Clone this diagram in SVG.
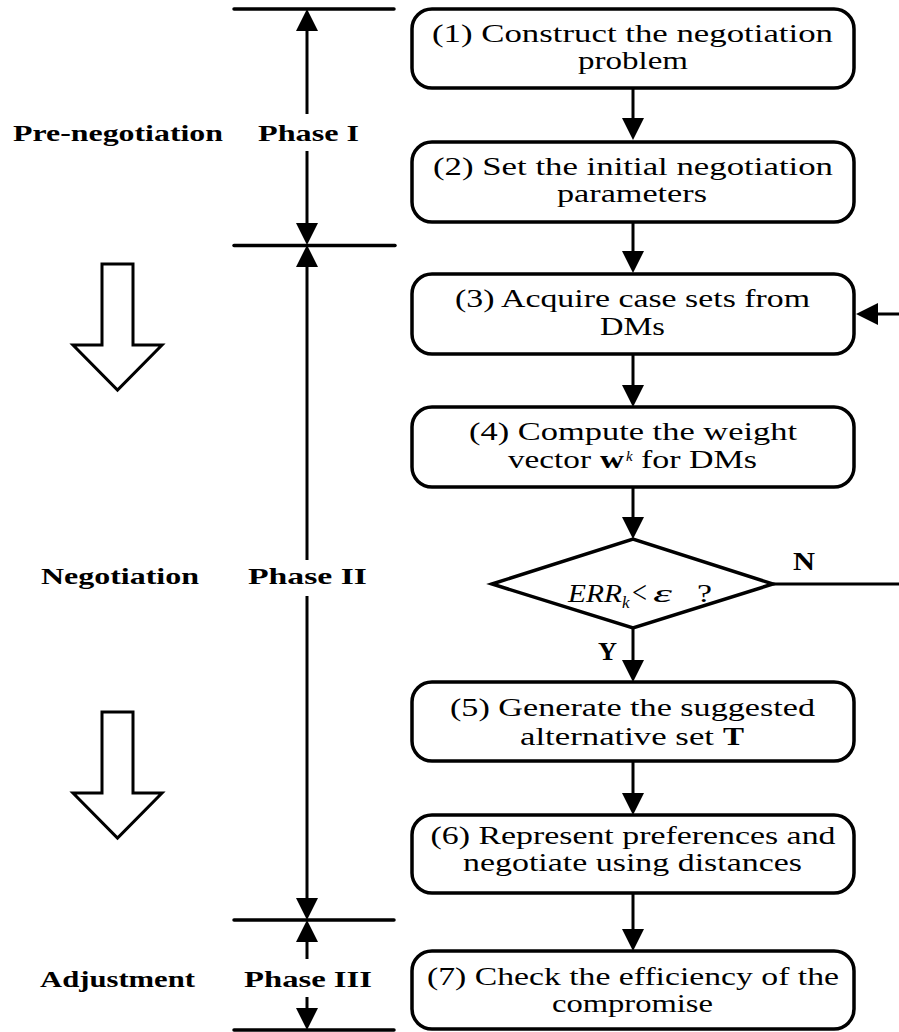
<svg xmlns="http://www.w3.org/2000/svg" width="899" height="1032" viewBox="0 0 899 1032">
  <style>
    .node rect { fill: #fff; stroke: #000; stroke-width: 3.5; }
    .node polygon { fill: #fff; stroke: #000; stroke-width: 3.5; stroke-linejoin: miter; }
    .t { font-family: "Liberation Serif", "Times New Roman", serif; font-size: 26px; fill: #000; text-anchor: middle; }
    .s { text-anchor: start; }
    .bold { font-weight: bold; }
    .it { font-style: italic; }
    .lab { font-family: "Liberation Serif", "Times New Roman", serif; font-size: 24px; font-weight: bold; fill: #000; text-anchor: middle; }
    .conn line, .conn path { stroke: #000; stroke-width: 3; fill: none; }
    .phase line { stroke: #000; stroke-width: 3; fill: none; }
    .phase line.rule { stroke-width: 3.5; stroke-linecap: round; }
    .hollow { fill: #fff; stroke: #000; stroke-width: 3; stroke-linejoin: miter; }
  </style>
  <defs>
    <marker id="ah" viewBox="0 0 22 22" refX="12" refY="11" markerWidth="22" markerHeight="22" markerUnits="userSpaceOnUse" orient="auto-start-reverse">
      <path d="M0,0 L22,11 L0,22 z" fill="#000"/>
    </marker>
  </defs>

  <!-- phase rulers and dimension arrows -->
  <g id="phases" class="phase">
    <line class="rule" x1="234" y1="9" x2="394" y2="9"/>
    <line class="rule" x1="234" y1="245.5" x2="395" y2="245.5"/>
    <line class="rule" x1="234" y1="920" x2="394" y2="920"/>
    <line class="rule" x1="234" y1="1030" x2="394" y2="1030"/>
    <line x1="307" y1="114" x2="307" y2="19" marker-end="url(#ah)"/>
    <line x1="307" y1="151" x2="307" y2="235" marker-end="url(#ah)"/>
    <line x1="307" y1="560" x2="307" y2="255" marker-end="url(#ah)"/>
    <line x1="307" y1="596" x2="307" y2="910" marker-end="url(#ah)"/>
    <line x1="307" y1="959" x2="307" y2="930" marker-end="url(#ah)"/>
    <line x1="307" y1="997" x2="307" y2="1020" marker-end="url(#ah)"/>
    <text class="lab" x="118" y="141" textLength="210" lengthAdjust="spacingAndGlyphs">Pre-negotiation</text>
    <text class="lab" x="308.5" y="141" textLength="101" lengthAdjust="spacingAndGlyphs">Phase I</text>
    <text class="lab" x="120" y="584" textLength="158" lengthAdjust="spacingAndGlyphs">Negotiation</text>
    <text class="lab" x="307.5" y="584" textLength="119" lengthAdjust="spacingAndGlyphs">Phase II</text>
    <text class="lab" x="117.5" y="987" textLength="155" lengthAdjust="spacingAndGlyphs">Adjustment</text>
    <text class="lab" x="308" y="987" textLength="128" lengthAdjust="spacingAndGlyphs">Phase III</text>
  </g>

  <!-- hollow progress arrows -->
  <g id="progress">
    <polygon class="hollow" points="102,264 133,264 133,345 162,345 117.5,390 73,345 102,345"/>
    <polygon class="hollow" points="102,712 133,712 133,793 162,793 117.5,838 73,793 102,793"/>
  </g>

  <!-- connectors -->
  <g id="connectors" class="conn">
    <line x1="633" y1="88" x2="633" y2="130" marker-end="url(#ah)"/>
    <line x1="633" y1="222" x2="633" y2="263" marker-end="url(#ah)"/>
    <line x1="633" y1="354" x2="633" y2="397" marker-end="url(#ah)"/>
    <line x1="633" y1="487" x2="633" y2="529" marker-end="url(#ah)"/>
    <line x1="633" y1="628" x2="633" y2="672" marker-end="url(#ah)"/>
    <line x1="633" y1="761" x2="633" y2="805" marker-end="url(#ah)"/>
    <line x1="633" y1="893" x2="633" y2="941" marker-end="url(#ah)"/>
    <path d="M773,584 H902 V314 H866" marker-end="url(#ah)"/>
    <text class="t bold s" x="793" y="570" textLength="22" lengthAdjust="spacingAndGlyphs">N</text>
    <text class="t bold s" x="598" y="660" textLength="19" lengthAdjust="spacingAndGlyphs">Y</text>
  </g>

  <g id="step1" class="node">
    <rect x="412" y="9" width="442" height="79" rx="20"/>
    <text class="t" x="632.5" y="42" textLength="401" lengthAdjust="spacingAndGlyphs">(1) Construct the negotiation</text>
    <text class="t" x="633" y="69" textLength="110" lengthAdjust="spacingAndGlyphs">problem</text>
  </g>

  <g id="step2" class="node">
    <rect x="412" y="142" width="442" height="80" rx="20"/>
    <text class="t" x="633" y="175" textLength="400" lengthAdjust="spacingAndGlyphs">(2) Set the initial negotiation</text>
    <text class="t" x="632" y="202" textLength="150" lengthAdjust="spacingAndGlyphs">parameters</text>
  </g>

  <g id="step3" class="node">
    <rect x="412" y="274" width="442" height="80" rx="20"/>
    <text class="t" x="632.5" y="307" textLength="355" lengthAdjust="spacingAndGlyphs">(3) Acquire case sets from</text>
    <text class="t" x="632.5" y="335" textLength="65" lengthAdjust="spacingAndGlyphs">DMs</text>
  </g>

  <g id="step4" class="node">
    <rect x="412" y="407" width="442" height="80" rx="20"/>
    <text class="t" x="633" y="440" textLength="328" lengthAdjust="spacingAndGlyphs">(4) Compute the weight</text>
    <text class="t s" x="508" y="468" textLength="83" lengthAdjust="spacingAndGlyphs">vector</text>
    <text class="t s bold" x="600" y="468" textLength="24" lengthAdjust="spacingAndGlyphs">w</text>
    <text class="t s it" x="626" y="461" style="font-size:15px">k</text>
    <text class="t s" x="641" y="468" textLength="116" lengthAdjust="spacingAndGlyphs">for DMs</text>
  </g>

  <g id="decision" class="node">
    <polygon points="492,584 633,539 773,584 633,628"/>
    <text class="t s it" x="568" y="602" textLength="54" lengthAdjust="spacingAndGlyphs">ERR</text>
    <text class="t s it" x="622" y="608" style="font-size:17px">k</text>
    <text class="t s" x="632" y="603" textLength="15" lengthAdjust="spacingAndGlyphs" style="font-size:32px">&lt;</text>
    <text class="t s it" x="653" y="602" textLength="19" lengthAdjust="spacingAndGlyphs">ε</text>
    <text class="t s" x="697" y="602" textLength="15" lengthAdjust="spacingAndGlyphs">?</text>
  </g>

  <g id="step5" class="node">
    <rect x="412" y="682" width="442" height="79" rx="20"/>
    <text class="t" x="632.5" y="716" textLength="365" lengthAdjust="spacingAndGlyphs">(5) Generate the suggested</text>
    <text class="t s" x="520" y="745" textLength="194" lengthAdjust="spacingAndGlyphs">alternative set</text>
    <text class="t s bold" x="723" y="745" textLength="21" lengthAdjust="spacingAndGlyphs">T</text>
  </g>

  <g id="step6" class="node">
    <rect x="412" y="815" width="442" height="78" rx="20"/>
    <text class="t" x="633" y="844" textLength="405" lengthAdjust="spacingAndGlyphs">(6) Represent preferences and</text>
    <text class="t" x="632.5" y="871" textLength="339" lengthAdjust="spacingAndGlyphs">negotiate using distances</text>
  </g>

  <g id="step7" class="node">
    <rect x="412" y="951" width="442" height="78" rx="20"/>
    <text class="t" x="633" y="985" textLength="412" lengthAdjust="spacingAndGlyphs">(7) Check the efficiency of the</text>
    <text class="t" x="632.5" y="1012" textLength="161" lengthAdjust="spacingAndGlyphs">compromise</text>
  </g>
</svg>
